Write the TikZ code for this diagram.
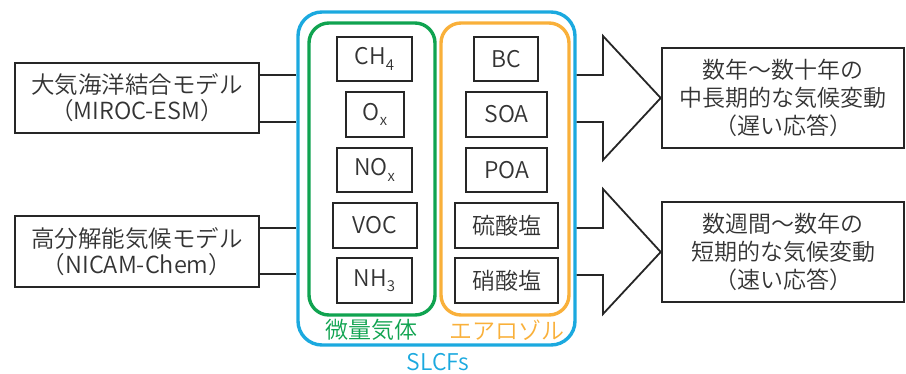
\documentclass[tikz,border=0pt]{standalone}
\usepackage{fontspec}
\setmainfont{Noto Sans CJK JP}[UprightFont={* DemiLight}]
\definecolor{cblue}{HTML}{1BA9DF}
\definecolor{cgreen}{HTML}{10A350}
\definecolor{corange}{HTML}{F9B03A}
\definecolor{ctext}{HTML}{333333}
\newcommand{\subs}[1]{\raisebox{-0.45ex}{\fontsize{15}{15}\selectfont #1}}
\tikzset{
  bx/.style={draw=black!85, line width=2.6pt, inner sep=0pt, text=ctext, font=\fontsize{23}{28}\selectfont, align=center},
  grp/.style={line width=3.4pt, rounded corners=20pt, inner sep=0pt},
  lbl/.style={font=\fontsize{23}{26}\selectfont, inner sep=0pt},
  conn/.style={draw=black!85, line width=1.8pt},
}
\begin{document}
\begin{tikzpicture}[x=1pt,y=-1pt]
\useasboundingbox (0,0) rectangle (906,373);
% left boxes
\node[bx, minimum width=244pt, minimum height=70pt, font=\fontsize{23.5}{26}\selectfont] (m1) at (137,98) {大気海洋結合モデル\\（MIROC-ESM）};
\node[bx, minimum width=244pt, minimum height=71pt, font=\fontsize{23.5}{26}\selectfont] (m2) at (137,251.5) {高分解能気候モデル\\（NICAM-Chem）};
% group frames
\node[grp, draw=cblue, minimum width=277pt, minimum height=333pt, rounded corners=24pt] (slcf) at (436.5,178.5) {};
\node[grp, draw=cgreen, minimum width=126pt, minimum height=292pt] (gas) at (372,169) {};
\node[grp, draw=corange, minimum width=128pt, minimum height=292pt] (aer) at (505,169) {};
\node[lbl, text=cgreen] (gasl) at (371,330) {微量気体};
\node[lbl, text=corange] (aerl) at (507,330) {エアロゾル};
\node[lbl, text=cblue] (slcfl) at (438,362) {SLCFs};
% gas species
\node[bx, minimum width=75pt, minimum height=44pt] (ch4) at (374.5,59) {CH\subs{4}};
\node[bx, minimum width=58pt, minimum height=45pt] (ox) at (375,114.5) {O\subs{x}};
\node[bx, minimum width=75pt, minimum height=44pt] (nox) at (374.5,170) {NO\subs{x}};
\node[bx, minimum width=84pt, minimum height=45pt] (voc) at (375,225.5) {VOC};
\node[bx, minimum width=75pt, minimum height=45pt] (nh3) at (374.5,280.5) {NH\subs{3}};
% aerosol species
\node[bx, minimum width=64pt, minimum height=44pt] (bc) at (506,59) {BC};
\node[bx, minimum width=81pt, minimum height=45pt] (soa) at (506.5,114.5) {SOA};
\node[bx, minimum width=81pt, minimum height=44pt] (poa) at (506.5,170) {POA};
\node[bx, minimum width=103pt, minimum height=45pt] (sulf) at (506.5,225.5) {硫酸塩};
\node[bx, minimum width=103pt, minimum height=45pt] (nitr) at (506.5,280.5) {硝酸塩};
% right boxes
\node[bx, minimum width=242pt, minimum height=100pt] (r1) at (783,98) {数年～数十年の\\中長期的な気候変動\\（遅い応答）};
\node[bx, minimum width=242pt, minimum height=100pt] (r2) at (783,252) {数週間～数年の\\短期的な気候変動\\（速い応答）};
% left connectors
\draw[conn] (m1.east |- 0,75) -- (slcf.west |- 0,75);
\draw[conn] (m1.east |- 0,122) -- (slcf.west |- 0,122);
\draw[conn] (m2.east |- 0,228) -- (slcf.west |- 0,228);
\draw[conn] (m2.east |- 0,274) -- (slcf.west |- 0,274);
% block arrows
\draw[conn, line join=miter] (slcf.east |- 0,75) -- (603,75) -- (603,36) -- (r1.west) -- (603,160) -- (603,122) -- (slcf.east |- 0,122);
\draw[conn, line join=miter] (slcf.east |- 0,228) -- (603,228) -- (603,189) -- (r2.west) -- (603,314) -- (603,275) -- (slcf.east |- 0,275);
\end{tikzpicture}
\end{document}
